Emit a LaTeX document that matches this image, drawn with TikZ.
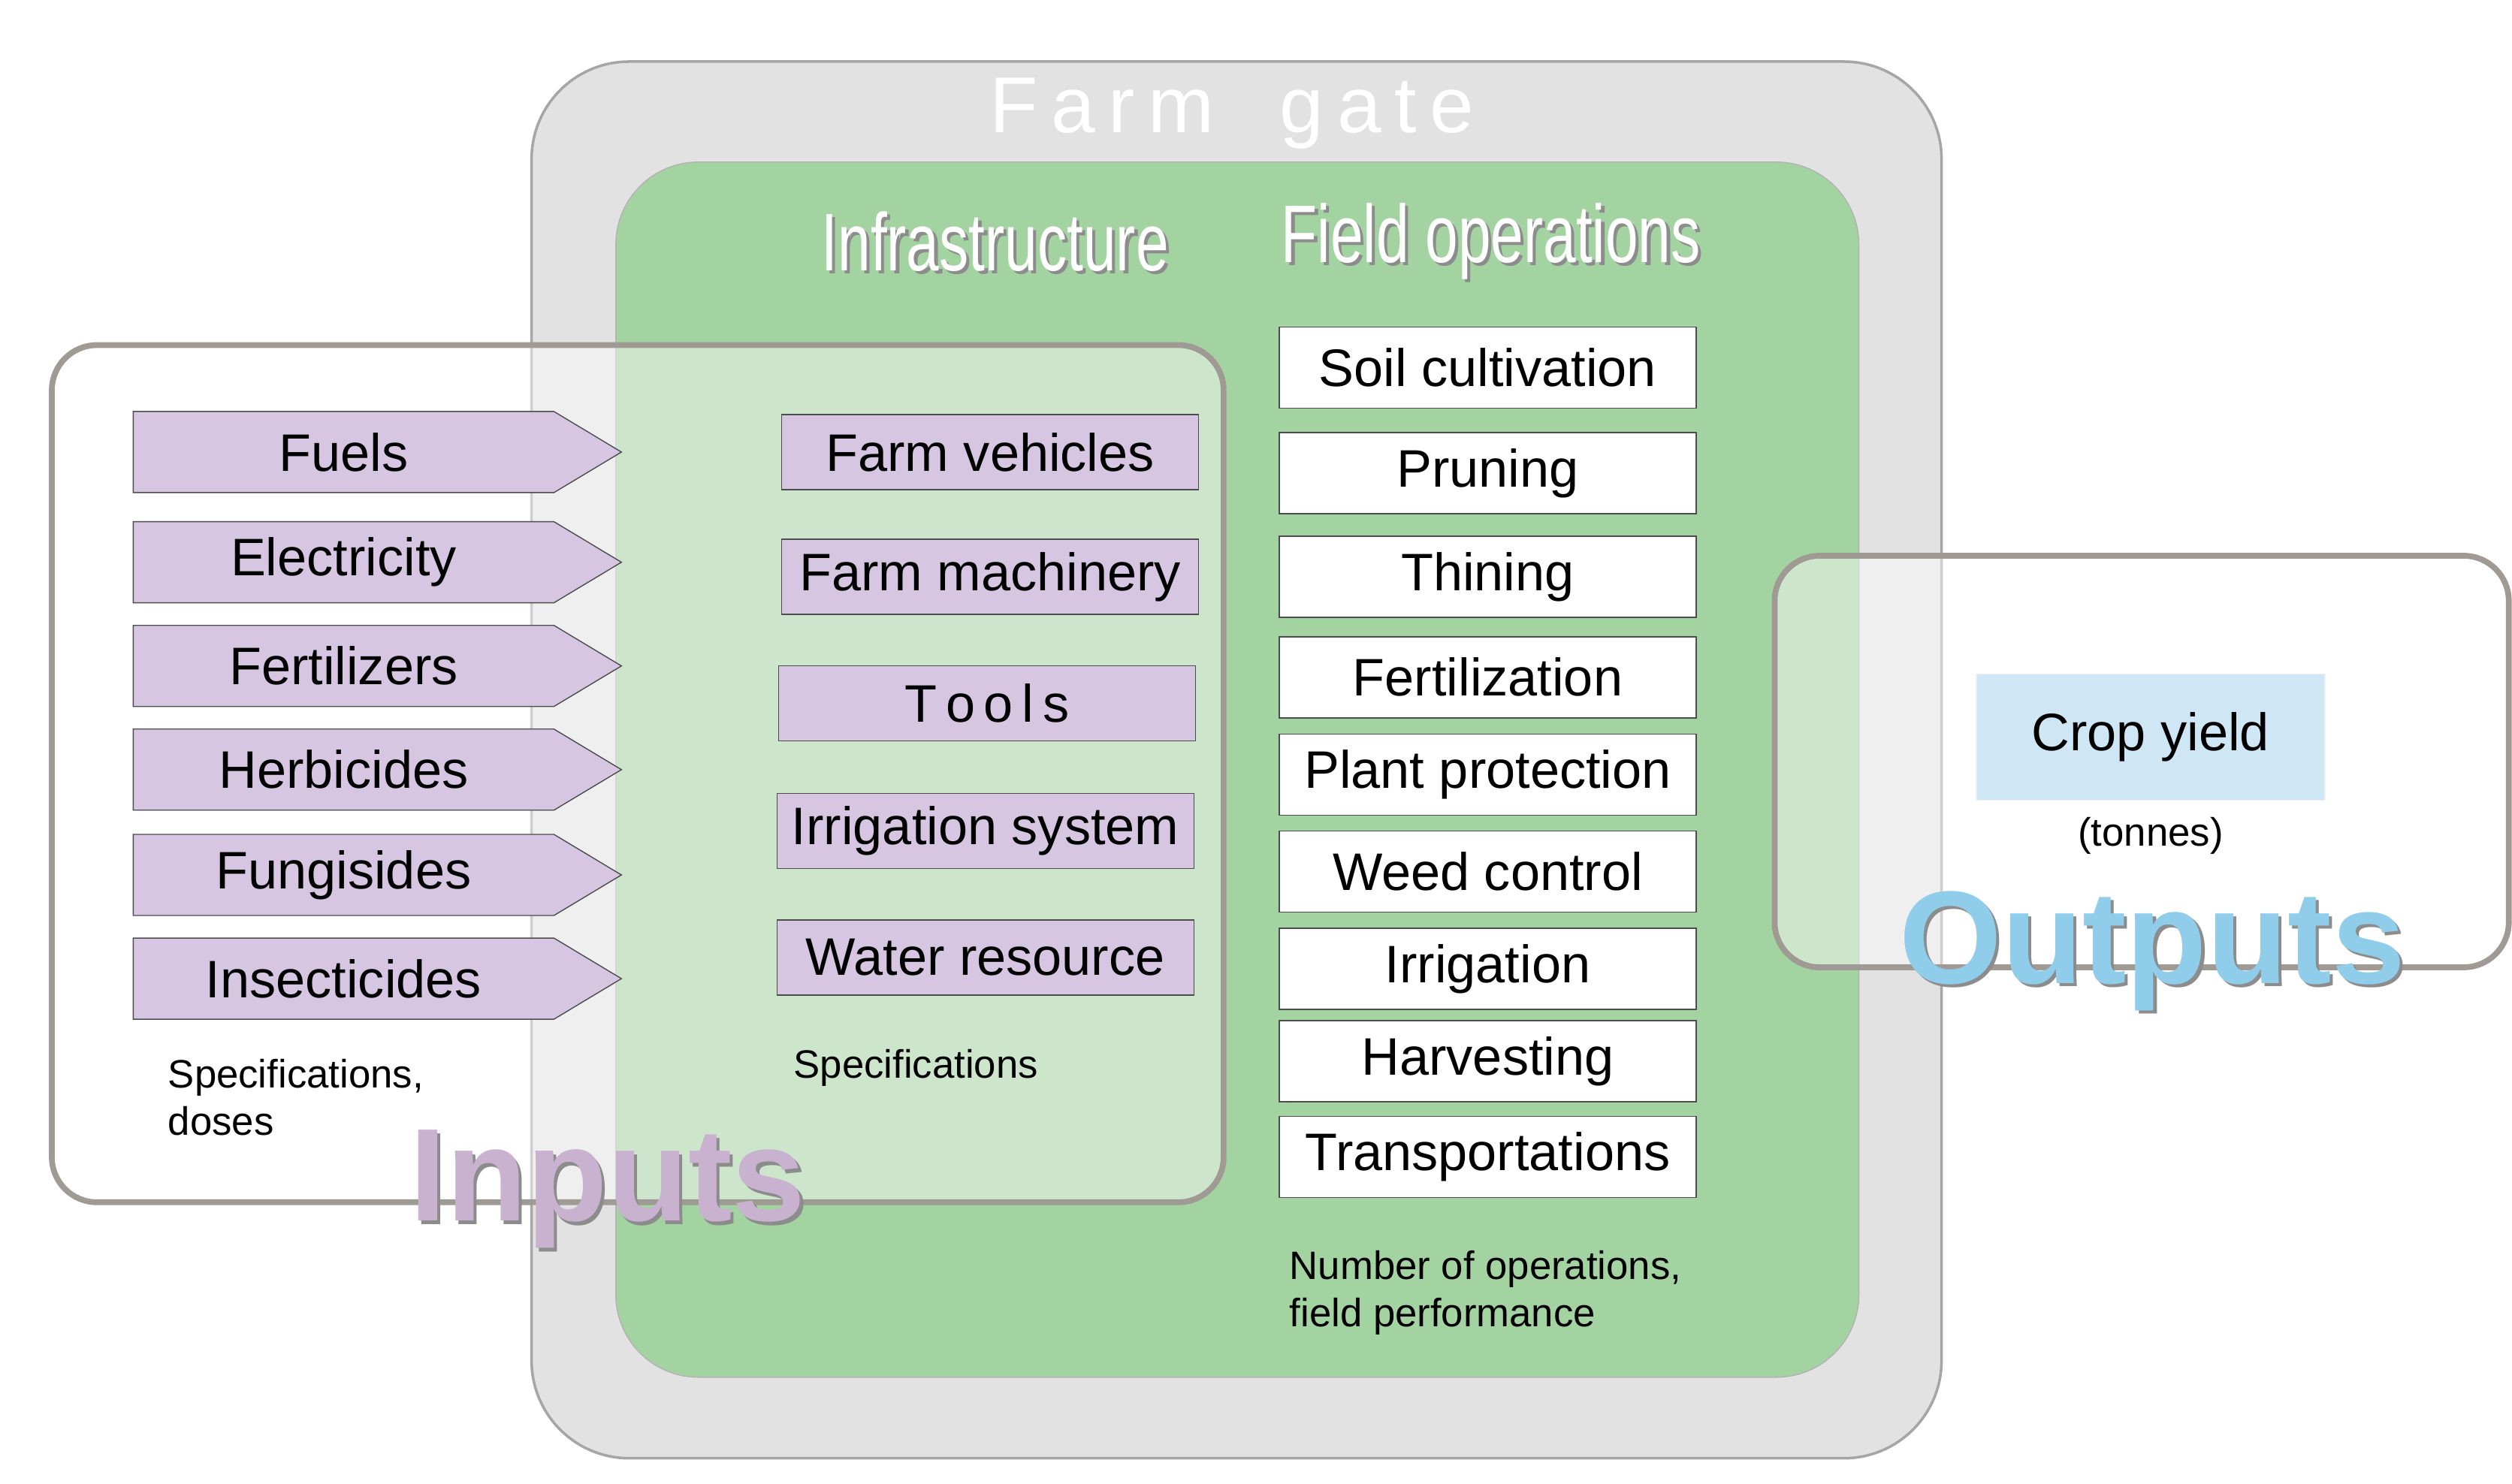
\documentclass[tikz,border=0pt]{standalone}
\usepackage{fontspec}
\setmainfont{Liberation Sans}
\newfontfamily\narrowfont{Liberation Sans}[FakeStretch=0.72]
\usetikzlibrary{shapes.symbols, positioning}
\definecolor{gategray}{HTML}{E2E2E2}
\definecolor{fieldgreen}{HTML}{A4D3A2}
\definecolor{boxline}{HTML}{A09A94}
\definecolor{inputviolet}{HTML}{D6C6E2}
\definecolor{yieldblue}{HTML}{CFE6F4}
\definecolor{inputstext}{HTML}{C9B2CF}
\definecolor{outputstext}{HTML}{8FCDEB}
\newcommand{\shadowed}[2]{\makebox[0pt][l]{\hspace{1.2pt}\raisebox{-1.2pt}{\color{black!45}#2}}{\color{#1}#2}}

\begin{document}
\begin{tikzpicture}[x=0.02157cm, y=-0.02157cm,
    every node/.style={font=\fontsize{20}{24}\selectfont},
    inarrow/.style={signal, signal to=east, signal pointer angle=62, draw=black!70, fill=inputviolet,
        minimum width=6.5cm, minimum height=1.08cm, inner sep=0pt},
    infra/.style={draw=black!70, fill=inputviolet, minimum width=5.55cm, minimum height=1.0cm, inner sep=0pt},
    fieldop/.style={draw=black!70, fill=white, minimum width=5.55cm, minimum height=1.08cm, inner sep=0pt},
    group/.style={draw=boxline, line width=2.2pt, rounded corners=0.6cm, fill=white, fill opacity=0.45},
    note/.style={align=left, font=\fontsize{15}{18}\selectfont},
    header/.style={font=\narrowfont\fontsize{31}{36}\selectfont},
    big/.style={font=\fontsize{50}{50}\selectfont\bfseries}]
    \useasboundingbox (0,0) rectangle (1550,915.6);

    % farm gate and field area
    \draw[draw=black!35, line width=1pt, fill=gategray, rounded corners=1.3cm] (328,38) rectangle (1198,900);
    \node[font=\fontsize{30}{30}\selectfont, text=white] (gate) at (760,70) {F\,a\,r\,m\;\; g\,a\,t\,e};
    \fill[fieldgreen, rounded corners=1.1cm] (380,100) rectangle (1147,850);
    \draw[black!30] (380,100) [rounded corners=1.1cm] rectangle (1147,850);

    \node[header] (infrahead) at (614,150) {\shadowed{white}{Infrastructure}};
    \node[header] (fieldhead) at (920,150) {\shadowed{white}{Field operations}};

    % inputs and outputs
    \draw[group] (32,213) rectangle (755,742);
    \draw[group] (1095,343) rectangle (1548,597);

    \foreach \name/\y in {Fuels/279, Electricity/347, Fertilizers/411, Herbicides/475, Fungisides/540, Insecticides/604}
        \node[inarrow] (\name) at (212,\y) {\name};

    \node[infra] (vehicles)  at (611,279) {Farm vehicles};
    \node[infra] (machinery) at (611,356) {Farm machinery};
    \node[infra] (tools)     at (609,434) {T\,o\,o\,l\,s};
    \node[infra] (irrsys)    at (608,513) {Irrigation system};
    \node[infra] (water)     at (608,591) {Water resource};

    \foreach \i/\name/\y in {1/Soil cultivation/227, 2/Pruning/292, 3/Thining/356, 4/Fertilization/418,
        5/Plant protection/478, 6/Weed control/538, 7/Irrigation/598, 8/Harvesting/655, 9/Transportations/714}
        \node[fieldop] (op\i) at (918,\y) {\name};

    \node[fill=yieldblue, draw=yieldblue!80!black!20, minimum width=4.64cm, minimum height=1.68cm] (yield) at (1327,455) {Crop yield};
    \node[note, below=0.1cm of yield] (tonnes) {(tonnes)};

    \node[note, anchor=north west] (specin) at (98,648) {Specifications,\\doses};
    \node[note, anchor=north west] (specinfra) at (484,642) {Specifications};
    \node[note, anchor=north west] (specop) at (790,766) {Number of operations,\\field performance};

    \node[big] (inputs) at (375,735) {\shadowed{inputstext}{Inputs}};
    \node[big] (outputs) at (1328,588) {\shadowed{outputstext}{Outputs}};
\end{tikzpicture}
\end{document}
